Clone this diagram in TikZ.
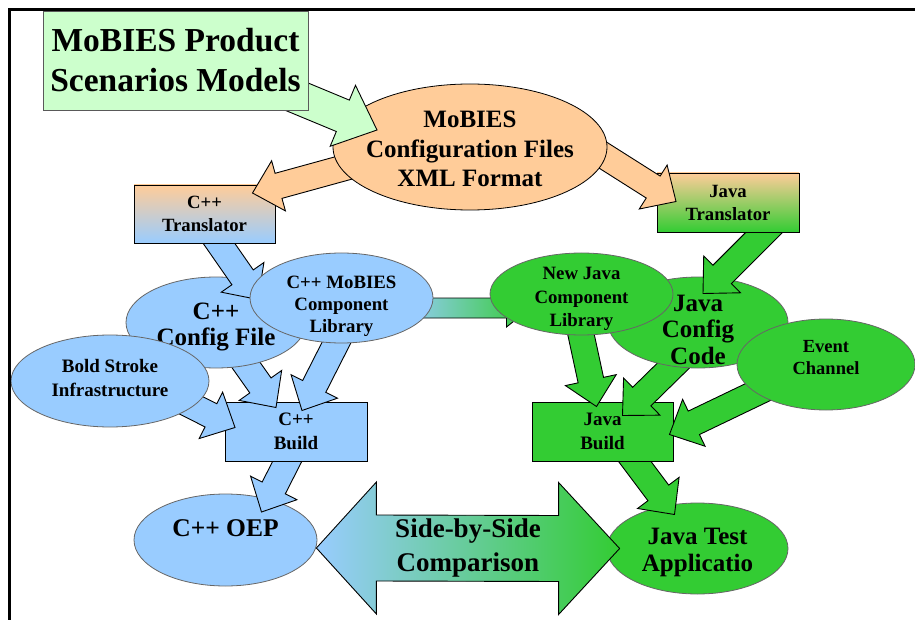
\documentclass[tikz,border=0pt]{standalone}
\usepackage{fontspec}
\setmainfont{Liberation Serif}
\usetikzlibrary{shapes.geometric,calc}
\definecolor{peach}{HTML}{FFCC99}
\definecolor{skyblue}{HTML}{99CCFF}
\definecolor{leaf}{HTML}{33CC33}
\definecolor{mint}{HTML}{CCFFCC}
\pgfdeclarelayer{l0}\pgfdeclarelayer{l1}\pgfdeclarelayer{l2}\pgfdeclarelayer{l3}
\pgfdeclarelayer{l4}\pgfdeclarelayer{l5}\pgfdeclarelayer{l6}\pgfdeclarelayer{l7}
\pgfdeclarelayer{l8}\pgfdeclarelayer{l9}
\pgfsetlayers{l0,l1,l2,l3,l4,l5,l6,l7,l8,l9,main}
\newcommand\fsz[2]{\bfseries\fontsize{#1}{#2}\selectfont}
\tikzset{
  shaftw/.store in=\arrw, headw/.store in=\arrW, headl/.store in=\arrl,
  fatarr/.style={draw, line width=0.9pt, shaftw=13pt, headw=26pt, headl=27pt},
  box/.style={draw, line width=0.9pt, inner sep=0pt, align=center},
  oval/.style={ellipse, draw=gray!80!black, line width=0.8pt, inner sep=0pt},
  lbl/.style={align=center, inner sep=0pt},
}
% block arrow from a point inside one node to a point inside another
\newcommand\fatarrow[3][]{%
  \coordinate (at) at (#2);
  \coordinate (ah) at (#3);
  \draw[fatarr,#1] ($(ah)!\arrl!(at)$) coordinate (ab)
    ($(at)!\arrw!90:(ah)$) -- ($(ab)!\arrw!90:(ah)$) -- ($(ab)!\arrW!90:(ah)$) -- (ah)
    -- ($(ab)!\arrW!-90:(ah)$) -- ($(ab)!\arrw!-90:(ah)$) -- ($(at)!\arrw!-90:(ah)$) -- cycle;}
\begin{document}
\begin{tikzpicture}[x=1pt,y=-1pt]
\useasboundingbox (0,0) rectangle (915,620);
\begin{pgfonlayer}{l0}
  \node[oval, fill=leaf, minimum width=181pt, minimum height=91pt,
    label={[lbl, font=\fsz{25}{27}, yshift=-4pt]center:{Java Test\\Applicatio}}] (javatest) at (697.5,548.5) {};
  \node[oval, fill=skyblue, minimum width=183pt, minimum height=92pt,
    label={[lbl, font=\fsz{25.5}{30}, yshift=12pt]center:{C++ OEP}}] (oep) at (225.5,540) {};
\end{pgfonlayer}
\begin{pgfonlayer}{l2}
  \node[box, fill=leaf, minimum width=141pt, minimum height=59pt, font=\fsz{19}{24}] (javabuild) at (602.5,431.5) {Java\\Build};
  \node[box, fill=skyblue, minimum width=142pt, minimum height=59pt, font=\fsz{19}{24}] (cppbuild) at (296,431.5) {C++\\Build};
\end{pgfonlayer}
\begin{pgfonlayer}{l4}
  \node[oval, fill=leaf, minimum width=180pt, minimum height=91pt,
    label={[lbl, font=\fsz{25}{26.5}, yshift=-7pt]center:{Java\\Config\\Code}}] (javacfg) at (698,322.5) {};
  \node[oval, fill=skyblue, minimum width=180pt, minimum height=91pt,
    label={[lbl, font=\fsz{25}{26}, yshift=-4pt]center:{C++\\Config File}}] (cfgfile) at (216,322.5) {};
\end{pgfonlayer}
\begin{pgfonlayer}{l6}
  \node[box, top color=peach, bottom color=skyblue, minimum width=141pt, minimum height=58pt, font=\fsz{18.7}{23}] (cpptrans) at (204.5,214) {C++\\Translator};
  \node[box, top color=peach, bottom color=leaf, minimum width=142pt, minimum height=59pt, font=\fsz{18.7}{23}] (javatrans) at (728,202.5) {Java\\Translator};
  \node[oval, fill=leaf, minimum width=178pt, minimum height=91pt,
    label={[lbl, font=\fsz{18.5}{21.5}, yshift=7pt]center:{Event\\Channel}}] (event) at (826,364.5) {};
  \node[oval, fill=skyblue, minimum width=198pt, minimum height=92pt,
    label={[lbl, font=\fsz{19}{24}, yshift=3pt]center:{Bold Stroke\\Infrastructure}}] (boldstroke) at (110,381) {};
  \node[oval, fill=skyblue, minimum width=183pt, minimum height=90pt,
    label={[lbl, font=\fsz{18.8}{22}, yshift=-8pt]center:{C++ MoBIES\\Component\\Library}}] (cpplib) at (341.5,298) {};
  \node[oval, fill=leaf, minimum width=183pt, minimum height=82pt,
    label={[lbl, font=\fsz{18.8}{23.5}, yshift=-5pt]center:{New Java\\Component\\Library}}] (newjavalib) at (581.5,294) {};
\end{pgfonlayer}
\begin{pgfonlayer}{l8}
  \node[oval, draw=black, fill=peach, minimum width=274pt, minimum height=126pt,
    label={[lbl, font=\fsz{25}{29.5}, yshift=-2pt]center:{MoBIES\\Configuration Files\\XML Format}}] (config) at (470,147) {};
\end{pgfonlayer}
\node[box, draw=gray!70!black, fill=mint, minimum width=265pt, minimum height=99pt, font=\fsz{33.5}{40}] (models) at (175.5,60.5) {MoBIES Product\\Scenarios Models};

\begin{pgfonlayer}{l1}
  \fatarrow[fill=leaf]{[shift={(12,3)}]javabuild.center}{[shift={(-23,-34)}]javatest.center}
  \fatarrow[fill=skyblue]{[shift={(11,-9)}]cppbuild.center}{[shift={(36,-28)}]oep.center}
  \coordinate (cmpl) at ([shift={(-1,8)}]oep.east);
  \coordinate (cmpr) at ([shift={(13,0)}]javatest.west);
  \draw[line width=0.9pt, left color=skyblue, right color=leaf] (cmpl) -- ++(60,-66) -- ++(0,33)
    -- ([shift={(-61,-33)}]cmpr) -- ++(0,-33) -- (cmpr) -- ++(-61,66) -- ++(0,-33)
    -- ([shift={(60,33)}]cmpl) -- ++(0,33) -- cycle;
  \node[lbl, font=\fsz{27}{34}] (cmptext) at ($(cmpl)!0.5!(cmpr)$) {Side-by-Side\\Comparison};
\end{pgfonlayer}
\begin{pgfonlayer}{l3}
  \fatarrow[fill=skyblue]{cfgfile.center}{[shift={(-20,-24)}]cppbuild.center}
  \fatarrow[fill=skyblue]{[shift={(10,15)}]cpplib.center}{[shift={(6,-21)}]cppbuild.center}
  \fatarrow[fill=skyblue]{[shift={(27,-3)}]boldstroke.center}{[shift={(-61,-4)}]cppbuild.center}
  \fatarrow[fill=leaf]{[shift={(-6,15)}]newjavalib.center}{[shift={(-6,-25)}]javabuild.center}
  \fatarrow[fill=leaf]{[shift={(3,16)}]javacfg.center}{[shift={(20,-16)}]javabuild.center}
  \fatarrow[fill=leaf]{[shift={(-21,5)}]event.center}{[shift={(67,3)}]javabuild.center}
\end{pgfonlayer}
\begin{pgfonlayer}{l5}
  \fatarrow[fill=skyblue]{[shift={(-15,-13)}]cpptrans.center}{[shift={(42,-23)}]cfgfile.center}
  \fatarrow[fill=leaf]{[shift={(53,13)}]javatrans.center}{[shift={(5,-29)}]javacfg.center}
  \fatarrow[left color=skyblue, right color=leaf, shaftw=10pt, headw=19pt, headl=24pt]{[shift={(58,10)}]cpplib.center}{[shift={(-51,14)}]newjavalib.center}
\end{pgfonlayer}
\begin{pgfonlayer}{l7}
  \fatarrow[fill=peach]{[shift={(-43,-2)}]config.center}{[shift={(48,-21)}]cpptrans.center}
  \fatarrow[fill=peach]{[shift={(79,-26)}]config.center}{[shift={(-52,-1)}]javatrans.center}
\end{pgfonlayer}
\begin{pgfonlayer}{l9}
  \fatarrow[fill=mint, shaftw=17pt, headw=33pt, headl=37pt]{[shift={(63,12)}]models.center}{[shift={(-93,-17)}]config.center}
\end{pgfonlayer}
\draw[line width=3pt] (9.5,620) -- (9.5,9.5) -- (915,9.5);
\end{tikzpicture}
\end{document}
